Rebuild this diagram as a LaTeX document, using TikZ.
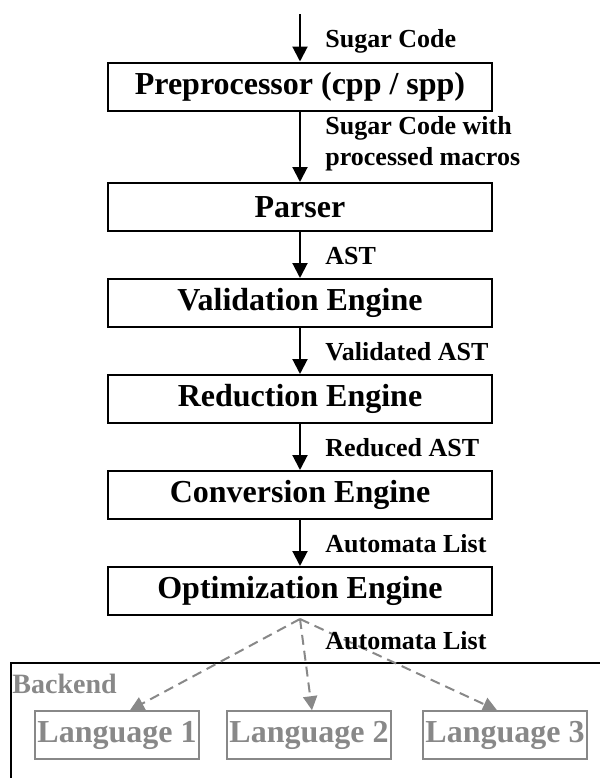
\documentclass[tikz,border=0pt]{standalone}
\usepackage{fontspec}
\setmainfont{Liberation Serif}
\usetikzlibrary{arrows.meta,calc}
\definecolor{lg}{HTML}{888888}
\begin{document}
\begin{tikzpicture}[x=0.5pt,y=-0.5pt,
  stage/.style={draw,line width=1pt,minimum width=192pt,minimum height=24pt,inner sep=0pt,
    font=\fontsize{16}{18}\selectfont\bfseries},
  lbl/.style={anchor=west,inner sep=0pt,align=left,
    font=\fontsize{13}{15.5}\selectfont\bfseries},
  flow/.style={line width=1pt,-{Triangle[length=7.5pt,width=7.5pt]}},
  lang/.style={draw=lg,text=lg,line width=0.8pt,minimum width=82pt,minimum height=24pt,inner sep=0pt,
    font=\fontsize{16}{18}\selectfont\bfseries},
  dflow/.style={draw=lg,line width=1pt,dash pattern=on 5pt off 3pt,
    -{Triangle[length=7pt,width=7pt,fill=lg]}}
]
\clip (0,0) rectangle (600,778);
\useasboundingbox (0,0) rectangle (600,778);

% backend frame
\coordinate (bkR) at (600,663);
\coordinate (bkB) at (11,778);
\draw[line width=0.8pt] (bkR) -| (bkB);
\node[anchor=west,inner sep=0pt,text=lg,font=\fontsize{14}{16}\selectfont\bfseries] (backend) at (12,684) {Backend};

% stages
\node[stage] (pre) at (300,86.5) {Preprocessor (cpp / spp)};
\node[stage] (par) at (300,207) {Parser};
\node[stage] (val) at (300,303) {Validation Engine};
\node[stage] (red) at (300,399) {Reduction Engine};
\node[stage] (con) at (300,495) {Conversion Engine};
\node[stage] (opt) at (300,591) {Optimization Engine};

% language boxes
\node[lang] (l1) at (117,735) {Language 1};
\node[lang] (l2) at (309,735) {Language 2};
\node[lang] (l3) at (505,735) {Language 3};

% flow arrows
\coordinate (src) at (300,14);
\draw[flow] (src) -- (pre.north);
\draw[flow] (pre.south) -- (par.north);
\draw[flow] (par.south) -- (val.north);
\draw[flow] (val.south) -- (red.north);
\draw[flow] (red.south) -- (con.north);
\draw[flow] (con.south) -- (opt.north);

% labels
\node[lbl] (t1) at (325,41) {Sugar Code};
\node[lbl] (t2) at (325,144) {Sugar Code with\\processed macros};
\node[lbl] (t3) at (325,256) {AST};
\node[lbl] (t4) at (325,352) {Validated AST};
\node[lbl] (t5) at (325,448) {Reduced AST};
\node[lbl] (t6) at (325,544) {Automata List};

% dashed arrows to backends
\coordinate (ds) at ($(opt.south)+(0,3)$);
\draw[dflow] (ds) -- ($(l1.north)+(13,0)$);
\draw[dflow] (ds) -- ($(l2.north)+(3,0)$);
\draw[dflow] (ds) -- ($(l3.north)+(-8,0)$);

\node[lbl] (t7) at (325,641) {Automata List};
\end{tikzpicture}
\end{document}
